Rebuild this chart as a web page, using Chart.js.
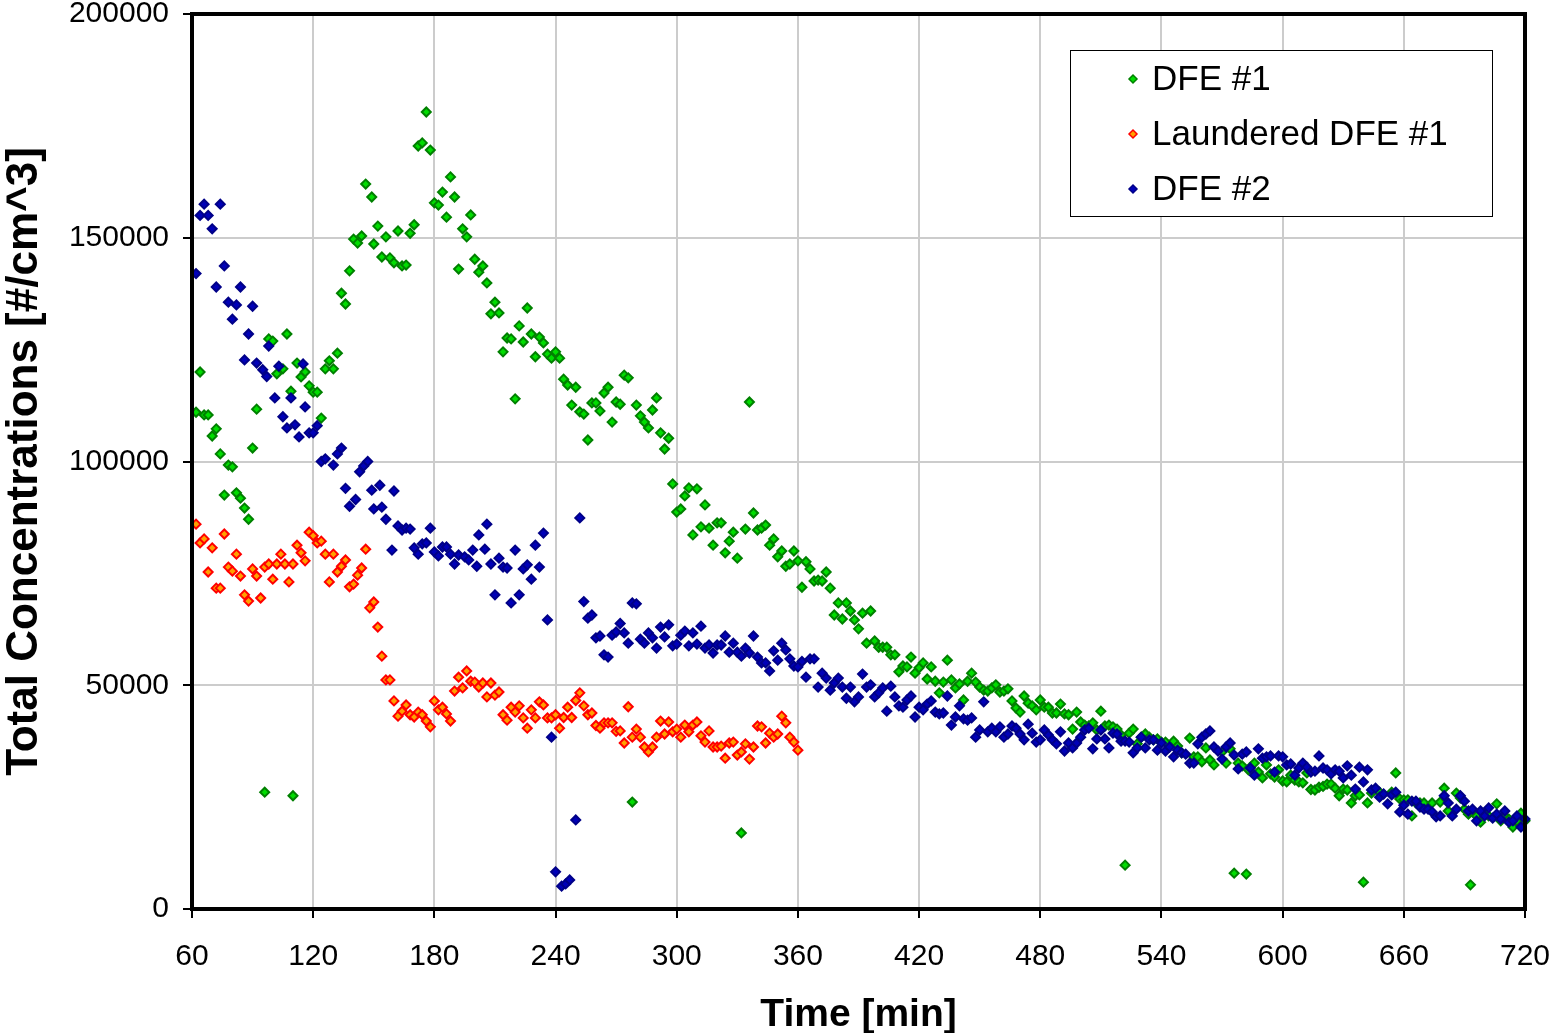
<!DOCTYPE html>
<html>
<head>
<meta charset="utf-8">
<script src="https://cdn.jsdelivr.net/npm/chart.js@4.4.0/dist/chart.umd.min.js"></script>
<style>
  body { margin: 0; background: #fff; }
  canvas { display: block; }
</style>
</head>
<body>
<canvas id="myChart" width="1549" height="1033"></canvas>
<script>
// tick labels
var xTicks = [60, 120, 180, 240, 300, 360, 420, 480, 540, 600, 660, 720];
var yTicks = [0, 50000, 100000, 150000, 200000];

// DFE #1 (green)
var dfe1Time = [62,64,66,68,70,72,74,76,78,80,82,84,86,88,90,92,96,98,100,102,105,107,109,110,112,114,116,118,120,122,124,126,128,130,132,134,136,138,140,142,144,146,149,150,152,154,156,158,160,162,164,166,168,170,172,174,176,178,180,182,184,186,188,190,192,194,196,198,200,202,204,206,208,210,212,214,216,218,220,222,224,226,228,230,232,234,236,238,240,242,244,246,248,250,252,254,256,258,260,262,264,266,268,270,272,274,276,278,280,282,284,286,288,290,292,294,296,298,300,302,304,306,308,310,312,314,316,318,320,322,324,326,328,330,332,334,336,338,340,342,344,346,348,350,352,354,356,358,360,362,364,366,368,370,372,374,376,378,380,382,384,386,388,390,392,394,396,398,400,402,404,406,408,410,412,414,416,418,420,422,424,426,428,430,432,434,436,438,440,442,444,446,448,450,452,454,456,458,460,462,464,466,468,470,472,474,476,478,480,482,484,486,488,490,492,494,496,498,500,502,504,506,508,510,512,514,516,518,520,522,524,526,528,530,532,534,536,538,540,542,546,548,550,554,556,558,560,562,564,566,570,572,574,576,578,580,582,583,584,586,588,590,592,594,596,598,600,602,604,606,608,610,612,614,616,618,620,622,624,626,628,630,632,634,636,638,640,642,644,648,654,656,658,660,662,664,666,668,670,674,678,680,682,686,688,690,692,693,694,696,698,700,702,706,708,710,712,714,716,718,720];
var dfe1Conc = [111000,120000,110400,110400,105700,107300,101700,92500,99200,98800,93000,91800,89600,87100,103000,111700,26100,127400,126900,119600,120700,128500,115700,25300,122000,118900,120000,116900,115500,115500,109700,120700,122500,120700,124200,137600,135200,142600,149700,148800,150400,162000,159100,148600,152600,145700,150200,145500,144400,151500,143700,143900,151000,152900,170500,171200,178100,169600,157800,157300,160200,154600,163600,159100,143000,152000,150200,155100,145200,142300,143700,139900,133000,135600,133200,124500,127600,127400,114000,130300,126700,134300,128500,123400,127800,126500,124000,123100,124500,123100,118400,117100,112600,116600,111100,110600,104800,113100,113100,111300,115300,116600,108800,113300,112800,119300,118700,23900,112600,110200,108800,107500,111500,114200,106400,102800,105200,95000,88700,89400,92300,94100,83600,93900,85400,90300,85100,81300,86300,86300,79600,82200,84200,78400,17000,84900,113300,88500,84700,85100,85800,81300,82700,78700,80000,76600,77100,80000,77800,71900,77600,76000,73300,73500,73300,75300,71700,65700,68400,64800,68400,66600,64600,62600,66100,59400,66600,59900,58500,58500,58500,56800,56800,53000,54300,54100,56300,52700,53900,55000,51400,54100,50900,48300,50700,55600,51200,49400,50300,46700,50900,52700,50700,49600,48900,48700,49400,50100,48500,48700,49200,46500,44900,44000,47600,46000,45400,44500,46700,45100,45100,43800,43800,45800,43600,43400,40200,44000,41800,41100,40900,41600,40000,44200,40900,41100,40700,40200,38900,9800,39300,40200,36900,38400,39100,38400,37800,38000,37300,37300,37500,36400,34900,38200,34000,34000,32900,36000,33300,32200,35100,32600,35800,8000,32600,32000,7800,31100,31700,32600,30600,29300,32200,30200,29500,31100,28600,28400,29900,28800,28400,28200,30400,26700,26600,27200,27400,27900,27900,27000,25300,26800,26600,23700,25300,25500,6000,23700,25900,26100,26100,30400,24600,24400,24400,20800,23700,23700,23700,23700,23900,27000,21900,25900,24800,22300,21200,5400,21700,20800,19400,21400,20800,23500,19700,20800,20100,18300,19700,21400,19700];

// Laundered DFE #1 (red)
var laundTime = [62,64,66,68,70,72,74,76,78,80,82,84,86,88,90,92,94,96,98,100,102,104,106,108,110,112,114,116,118,120,122,124,126,128,130,132,134,136,138,140,142,144,146,148,150,152,154,156,158,160,162,164,166,168,170,172,174,176,178,180,182,184,186,188,190,192,194,196,198,200,202,204,206,208,210,212,214,216,218,220,222,224,226,228,230,232,234,236,238,240,242,244,246,248,250,252,254,256,258,260,262,264,266,268,270,272,274,276,278,280,282,284,286,288,290,292,294,296,298,300,302,304,306,308,310,312,314,316,318,320,322,324,326,328,330,332,334,336,338,340,342,344,346,348,350,352,354,356,358,360];
var laundConc = [86000,81800,82700,75300,80700,71700,71700,83800,76400,75500,79300,74400,70200,68800,76000,74400,69500,76400,77100,73700,77100,79300,77100,73100,77100,81300,79600,77800,84200,83400,81800,82200,79300,73100,79300,75300,76600,78000,72000,72600,74600,76200,80400,67300,68600,63000,56500,51200,51200,46500,43100,44200,45600,43400,42900,44000,43400,42000,40700,46500,44500,45100,43600,42000,48700,51800,49400,53200,50900,50700,49600,50500,47400,50500,47800,48500,43400,42200,45100,44000,45400,42700,40400,44500,42700,46300,45600,42700,42700,43400,40400,42800,45100,42800,46600,48300,45400,43400,43800,41000,40400,41600,41600,41600,39700,39800,37100,45200,38400,40200,38400,36200,35100,36200,38400,42000,39100,41800,39600,40200,38400,41100,39600,41100,41800,38700,37300,39800,36200,36200,36400,33700,37100,37300,34400,35100,36900,33500,36200,40900,40700,37100,39300,38400,39100,43100,41600,38400,37300,35500];

// DFE #2 (blue)
var dfe2Time = [62,64,66,68,70,72,74,76,78,80,82,84,86,88,90,92,95,97,98,101,103,105,107,109,111,113,115,116,118,120,122,124,126,130,132,134,136,138,141,143,145,147,149,150,153,154,156,159,160,162,164,166,168,170,172,174,176,178,180,182,184,186,188,190,192,195,197,199,201,202,205,206,208,210,212,214,216,218,220,222,224,226,228,230,232,234,236,238,240,243,245,247,250,252,254,256,258,260,262,264,266,268,270,272,274,276,278,280,282,284,286,288,290,292,294,296,298,300,302,304,306,308,310,312,314,316,318,320,322,324,326,328,330,332,334,336,338,340,342,344,346,348,350,352,354,356,358,360,362,364,366,368,370,372,374,376,378,380,382,384,386,388,390,392,394,396,398,400,402,404,406,408,410,412,414,416,418,420,422,424,426,428,430,432,434,436,438,440,442,444,446,448,450,452,454,456,458,460,462,464,466,468,470,472,474,476,478,480,482,484,486,488,490,492,494,496,498,500,502,504,506,508,510,512,514,516,518,520,522,524,526,528,530,532,534,536,538,540,542,544,546,548,550,552,554,556,558,560,562,564,566,568,570,572,574,576,578,580,582,584,586,588,590,592,594,596,598,600,602,604,606,608,610,612,614,616,618,620,622,624,626,628,630,632,634,636,638,640,642,644,646,648,650,652,654,656,658,660,662,664,666,668,670,672,674,676,678,680,682,684,686,688,690,692,694,696,698,700,702,704,706,708,710,712,714,716,718,720];
var dfe2Conc = [142000,155000,157500,155000,152000,139000,157500,143700,135600,131800,135000,139000,122700,128500,134700,122000,120500,119000,125800,114200,121300,110000,107500,114200,108200,105500,121800,112200,106400,106400,108000,100000,100600,99200,101700,103000,94000,90000,91500,97700,99000,100000,93600,89400,94700,89800,87100,80200,93400,85600,84700,85100,84900,80700,79300,81600,81800,85100,79800,78900,80900,80900,79300,77100,79100,78700,78000,80200,76600,83600,80400,86000,77100,70200,78400,76400,76200,68400,80200,70200,76000,76900,73700,81300,76400,84000,64600,38400,8300,5100,5600,6500,19900,87400,68700,65000,65700,60600,61000,56800,56300,61200,61900,63800,61700,59400,68400,68200,60300,59400,61700,60600,58300,63000,60800,63500,58800,59200,61200,62100,58800,61700,59200,63200,58300,59000,57200,59000,59000,61000,57400,59400,57400,56500,58300,57200,61000,56300,55000,55000,53200,57700,55600,59400,57900,55900,54300,54100,55300,51800,55900,55900,49600,52700,51600,48900,50500,51600,49600,47100,49600,46300,47400,52500,49600,50100,47400,48300,49400,44200,49800,47400,45400,45100,46700,47600,42900,45100,44500,45800,46500,44000,43600,43800,47600,41100,42900,45400,42500,42200,42700,38400,40000,46300,39600,40400,39600,40700,38400,39100,40900,40400,39100,37800,41300,39300,37300,37800,40000,38900,37800,36900,39600,35300,37100,36000,37100,38400,40000,40400,35800,38000,40000,38000,36000,39300,39100,37500,37500,37300,34900,36000,38400,36000,37800,37800,35500,37100,35300,36200,34000,35500,34900,34600,32600,32600,36900,38400,39100,39800,36200,35300,33500,36200,37100,34400,31300,34600,35100,31500,29900,35800,33700,34000,34200,30600,34200,34000,32200,32400,29900,31500,32600,31700,30600,30800,34200,31500,31100,30200,31100,30800,29300,32000,29900,26800,31700,28400,31100,26600,27000,25000,25700,23500,25500,26100,21700,23200,21200,24100,24100,22800,22300,22300,21700,20600,20800,25300,23700,20800,22300,25300,24100,21900,22300,19700,21900,20800,22600,20300,21200,20100,21900,19400,19700,20800,18300,20100];

var seriesNames = ['DFE #1', 'Laundered DFE #1', 'DFE #2'];
var borderColors = ['#008000', '#ff0000', '#000088'];
var fillColors = ['#00dd00', '#ffa000', '#0000b8'];

function toPoints(ts, vs) {
    var pts = [];
    for (var i = 0; i < ts.length && i < vs.length; i++) {
        pts.push({ x: ts[i], y: vs[i] });
    }
    return pts;
}

var fontFamily = '"Liberation Sans", Arial, sans-serif';

// frame, axis titles and legend box
var decor = {
    id: 'decor',
    afterDatasetsDraw: function (chart) {
        var ctx = chart.ctx;
        var a = chart.chartArea;
        ctx.save();
        ctx.strokeStyle = '#000';
        ctx.lineWidth = 4;
        ctx.strokeRect(a.left, a.top, a.right - a.left, a.bottom - a.top);

        ctx.fillStyle = '#000';
        ctx.font = 'bold 39px ' + fontFamily;
        ctx.textAlign = 'center';
        ctx.textBaseline = 'middle';
        ctx.fillText('Time [min]', (a.left + a.right) / 2, 1015);

        ctx.font = 'bold 44px ' + fontFamily;
        ctx.translate(25, (a.top + a.bottom) / 2);
        ctx.rotate(-Math.PI / 2);
        ctx.fillText('Total Concentrations [#/cm^3]', 0, 0);
        ctx.restore();

        // legend
        ctx.save();
        ctx.fillStyle = '#fff';
        ctx.fillRect(1070, 50, 422, 166);
        ctx.strokeStyle = '#000';
        ctx.lineWidth = 1;
        ctx.strokeRect(1070.5, 50.5, 422, 166);
        var rows = [79, 134, 189];
        for (var i = 0; i < seriesNames.length; i++) {
            var y = rows[i];
            ctx.beginPath();
            ctx.moveTo(1133, y - 4);
            ctx.lineTo(1137, y);
            ctx.lineTo(1133, y + 4);
            ctx.lineTo(1129, y);
            ctx.closePath();
            ctx.fillStyle = fillColors[i];
            ctx.fill();
            ctx.lineWidth = 1.5;
            ctx.strokeStyle = borderColors[i];
            ctx.stroke();
            ctx.fillStyle = '#000';
            ctx.font = '35px ' + fontFamily;
            ctx.textAlign = 'left';
            ctx.textBaseline = 'middle';
            ctx.fillText(seriesNames[i], 1152, y + 1);
        }
        ctx.restore();
    }
};

function makeSet(i, ts, vs, order) {
    return {
        label: seriesNames[i],
        data: toPoints(ts, vs),
        pointStyle: 'rectRot',
        pointRadius: 4.5,
        pointBorderWidth: 2,
        borderColor: borderColors[i],
        backgroundColor: fillColors[i],
        showLine: false,
        order: order,
        clip: false
    };
}

var ctx = document.getElementById('myChart').getContext('2d');
var chart = new Chart(ctx, {
    type: 'scatter',
    data: {
        datasets: [
            makeSet(0, dfe1Time, dfe1Conc, 2),
            makeSet(1, laundTime, laundConc, 1),
            makeSet(2, dfe2Time, dfe2Conc, 0)
        ]
    },
    options: {
        responsive: false,
        animation: false,
        devicePixelRatio: 1,
        layout: { padding: { left: 0, top: 14, right: 24, bottom: 0 } },
        plugins: {
            legend: { display: false },
            tooltip: { enabled: false }
        },
        scales: {
            x: {
                type: 'linear',
                min: 60,
                max: 720,
                afterBuildTicks: function (scale) {
                    scale.ticks = xTicks.map(function (v) { return { value: v }; });
                },
                afterFit: function (scale) {
                    scale.height = 124;
                    scale.paddingLeft = 0;
                    scale.paddingRight = 0;
                },
                grid: { color: '#cccccc', lineWidth: 2, tickColor: '#000', tickLength: 9, tickWidth: 2 },
                border: { display: false },
                ticks: {
                    color: '#000',
                    padding: 21,
                    maxRotation: 0,
                    font: { family: fontFamily, size: 30, lineHeight: 1.2 },
                    callback: function (v) { return String(v); }
                }
            },
            y: {
                type: 'linear',
                min: 0,
                max: 200000,
                afterBuildTicks: function (scale) {
                    scale.ticks = yTicks.map(function (v) { return { value: v }; });
                },
                afterFit: function (scale) {
                    scale.width = 192;
                    scale.paddingTop = 0;
                    scale.paddingBottom = 0;
                },
                grid: { color: '#cccccc', lineWidth: 2, tickColor: '#000', tickLength: 9, tickWidth: 2 },
                border: { display: false },
                ticks: {
                    color: '#000',
                    padding: 14,
                    font: { family: fontFamily, size: 30 },
                    callback: function (v) { return String(v); }
                }
            }
        }
    },
    plugins: [decor]
});
</script>
</body>
</html>
